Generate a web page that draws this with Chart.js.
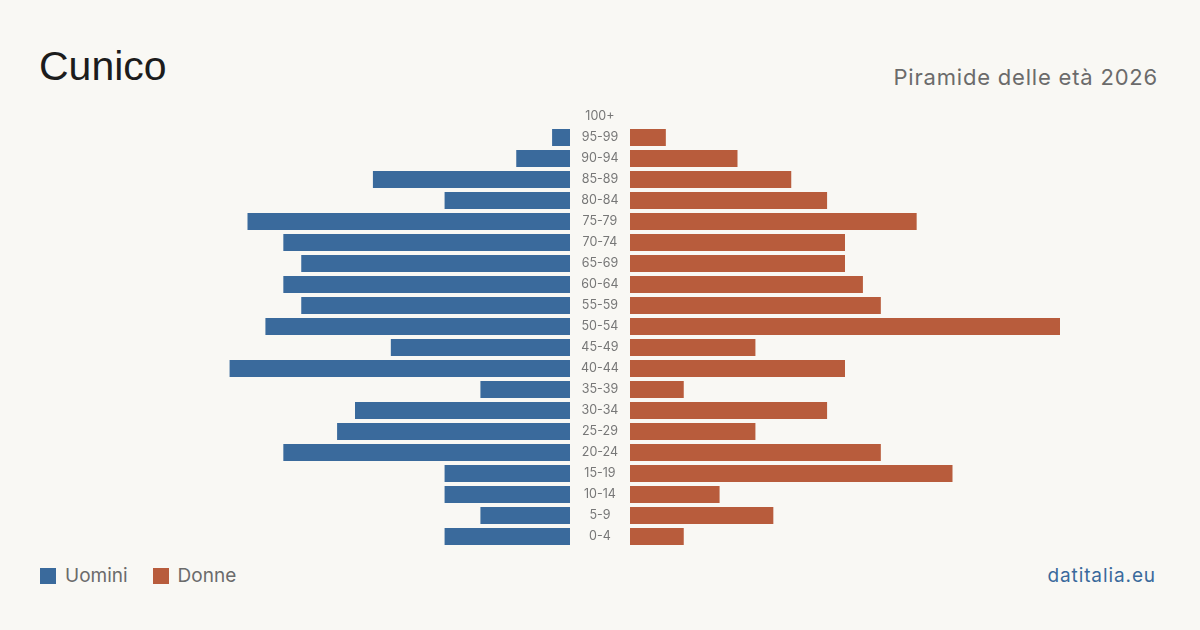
<!DOCTYPE html>
<html><head><meta charset="utf-8">
<script src="https://cdn.jsdelivr.net/npm/chart.js@4.4.1/dist/chart.umd.min.js"></script>
<style>
html,body{margin:0;padding:0;background:#f9f8f4;}
body{width:1200px;height:630px;position:relative;overflow:hidden;font-family:"Inter","Liberation Sans",sans-serif;}
#title{position:absolute;left:39px;top:42px;font-family:"Liberation Sans",Arial,sans-serif;font-size:41px;color:#1c1c1c;line-height:48px;}
#sub{position:absolute;right:42px;top:62px;font-size:22px;color:#6b6b6b;line-height:30px;letter-spacing:0.8px;}
#legend{position:absolute;left:40px;top:564px;font-size:19px;color:#6b6b6b;line-height:24px;display:flex;align-items:center;}
.sw{display:inline-block;width:16px;height:16px;margin-right:9px;}
#src{position:absolute;right:44px;top:564px;font-size:19px;color:#3a6a9c;line-height:24px;letter-spacing:0.9px;}
#cl{position:absolute;left:140px;top:106px;}
#cr{position:absolute;left:630px;top:106px;}
</style></head>
<body>
<div id="title">Cunico</div>
<div id="sub">Piramide delle età 2026</div>
<div id="legend"><span class="sw" style="background:#3a6a9c"></span><span>Uomini</span><span class="sw" style="background:#b85c3c;margin-left:25px"></span><span>Donne</span></div>
<div id="src">datitalia.eu</div>
<canvas id="cl" width="490" height="441"></canvas>
<canvas id="cr" width="430" height="441"></canvas>
<script>
const ageGroups = ["100+","95-99","90-94","85-89","80-84","75-79","70-74","65-69","60-64","55-59","50-54","45-49","40-44","35-39","30-34","25-29","20-24","15-19","10-14","5-9","0-4"];
const men =   [0,1,3,11,7,18,16,15,16,15,17,10,19,5,12,13,16,7,7,5,7];
const women = [0,2,6,9,11,16,12,12,13,14,24,7,12,3,11,7,14,18,5,8,3];
const axisMax = 24;

const common = {
  responsive:false, animation:false, indexAxis:'y',
  layout:{padding:0},
  plugins:{legend:{display:false}, tooltip:{enabled:false}},
};
new Chart(document.getElementById('cl'), {
  type:'bar',
  data:{labels:ageGroups, datasets:[{data:men, backgroundColor:'#3a6a9c', barPercentage:0.81, categoryPercentage:1}]},
  options:Object.assign({}, common, {
    scales:{
      x:{display:false, reverse:true, min:0, max:axisMax},
      y:{position:'right', grid:{display:false}, border:{display:false},
         ticks:{crossAlign:'center', padding:3, color:'#777', font:{family:'Inter', size:12.5}},
         afterFit:(s)=>{s.width=60; s.paddingTop=0; s.paddingBottom=0;}}
    }
  })
});
new Chart(document.getElementById('cr'), {
  type:'bar',
  data:{labels:ageGroups, datasets:[{data:women, backgroundColor:'#b85c3c', barPercentage:0.81, categoryPercentage:1}]},
  options:Object.assign({}, common, {
    scales:{
      x:{display:false, min:0, max:axisMax},
      y:{display:false}
    }
  })
});
</script>
</body></html>
